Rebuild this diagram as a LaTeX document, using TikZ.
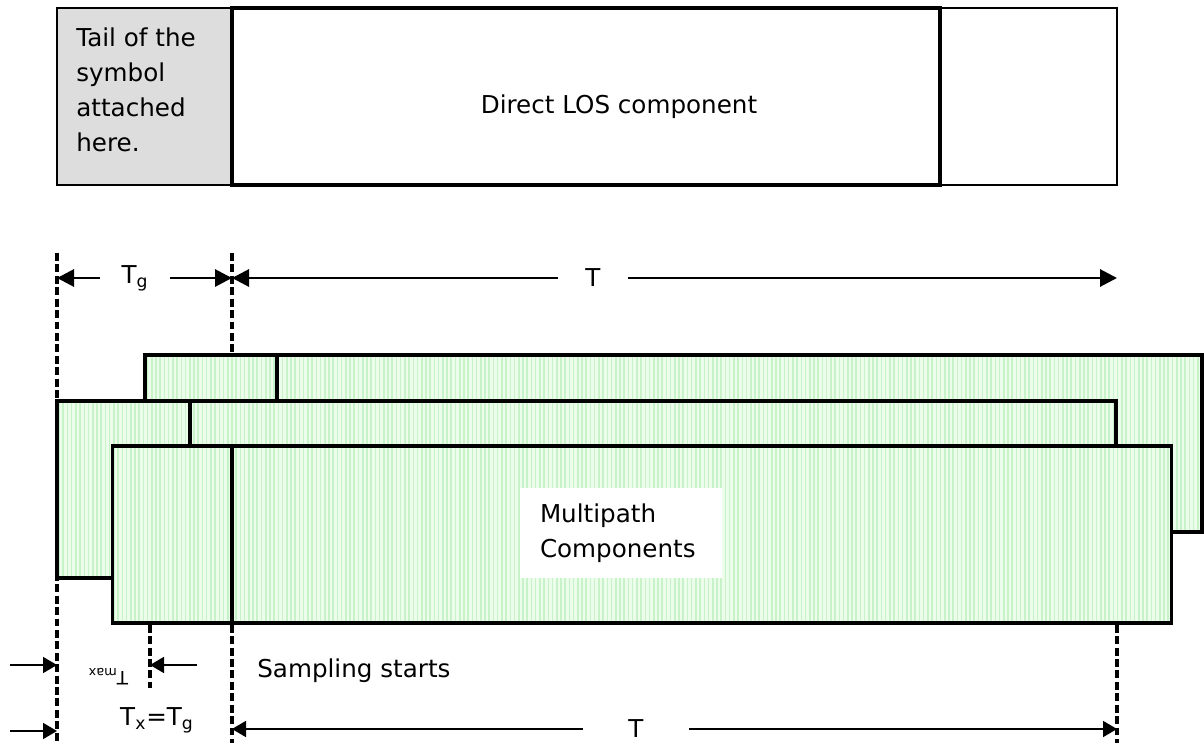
\documentclass[tikz,border=0pt]{standalone}
\usepackage{fontspec}
\setmainfont{DejaVu Sans}
\usepackage{xcolor}
\usepackage{tikz}
\usetikzlibrary{arrows.meta,patterns.meta,positioning}
\definecolor{tailgray}{RGB}{221,221,221}
\definecolor{mpgreen}{RGB}{236,253,236}
\definecolor{mpstripe}{RGB}{200,242,200}
\tikzset{
  labeltext/.style={
    font=\fontsize{14}{20}\selectfont,
    inner sep=0pt
  },
  guide/.style={
    line width=2pt,
    dash pattern=on 4.5pt off 2pt
  }
}

\begin{document}
\begin{tikzpicture}[
  x=0.2mm, y=-0.2mm,
  tailbox/.style={rectangle, draw=black, line width=1.6pt, fill=tailgray, minimum width=3.5cm, minimum height=3.54cm, inner sep=0pt},
  losbox/.style={rectangle, draw=black, line width=2pt, minimum width=14.16cm, minimum height=3.54cm, inner sep=0pt},
  restbox/.style={rectangle, draw=black, line width=1.2pt, minimum width=3.54cm, minimum height=3.54cm, inner sep=0pt},
  pathbox/.style={rectangle, draw=black, line width=2pt, preaction={fill=mpgreen}, minimum width=21.18cm, minimum height=3.54cm, inner sep=0pt,
    pattern={Lines[angle=90, distance=2.4pt, line width=0.9pt]}, pattern color=mpstripe},
  pathline/.style={line width=2pt},
  dimbold/.style={-{Triangle[length=3.4mm, width=3.4mm]}, line width=1.7pt},
  dimthin/.style={-{Triangle[length=2.8mm, width=3.2mm]}, line width=1pt}
]
\useasboundingbox (0,0) rectangle (1204,743);

% Symbol with its tail
\node[tailbox] (tail) at (144.5,96.5) {};
\node[restbox] (rest) at (1028.5,96.5) {};
\node[losbox] (los) at (586,96.5) {};
\node[labeltext, anchor=west, align=left] (tailtext) at (76,90) {Tail of the\\symbol\\attached\\here.};
\node[labeltext] (lostext) at (619,107) {Direct LOS component};

% Guide lines
\coordinate (g0top) at (57,253);
\coordinate (g0bot) at (57,743);
\coordinate (g1top) at (232,253);
\coordinate (g2bot) at (150,688);
\coordinate (g3bot) at (1117,743);
\draw[guide] (g0top) -- (g0bot);

% Multipath components
\node[pathbox, minimum width=21.14cm] (pathA) at (673.5,443.5) {};
\coordinate (sepA) at (277,0);
\draw[pathline] (pathA.north -| sepA) -- (pathA.south -| sepA);

\node[pathbox] (pathB) at (586.5,489.5) {};
\coordinate (sepB) at (190,0);
\draw[pathline] (pathB.north -| sepB) -- (pathB.south -| sepB);

\node[pathbox] (pathC) at (642,534.5) {};
\coordinate (sepC) at (232,0);
\draw[pathline] (pathC.north -| sepC) -- (pathC.south -| sepC);

\node[labeltext, fill=white, inner xsep=0.4cm, text width=3.24cm, minimum height=1.8cm, align=left] (mptext) at (621,533) {Multipath\\Components};

\draw[guide] (g1top) -- (pathA.north -| g1top);
\draw[guide] (pathC.south -| g1top) -- (g1top |- g0bot);
\draw[guide] (pathC.south -| g2bot) -- (g2bot);
\draw[guide] (pathC.south -| g3bot) -- (g3bot);

% Upper dimensions
\node[labeltext, minimum width=1.4cm] (Tg) at (135,278) {T\textsubscript{g}};
\draw[dimbold] (Tg) -- (Tg -| g0top);
\draw[dimbold] (Tg) -- (Tg -| g1top);
\node[labeltext, minimum width=1.4cm] (Ttop) at (593,278) {T};
\draw[dimbold] (Ttop) -- (Ttop -| g1top);
\draw[dimbold] (Ttop) -- (Ttop -| g3bot);

% Lower dimensions
\coordinate (in0) at (10,665);
\coordinate (in2) at (197,665);
\draw[dimthin] (in0) -- (in0 -| g0top);
\draw[dimthin] (in2) -- (in2 -| g2bot);
\node[labeltext, rotate=180, font=\fontsize{10.5}{12}\selectfont] (tmax) at (108,677) {T\textsubscript{max}};
\node[labeltext, anchor=base west] (samp) at (257,677) {Sampling starts};

\coordinate (in1) at (10,731);
\draw[dimthin] (in1) -- (in1 -| g0top);
\node[labeltext] (txtg) at (157,720) {T\textsubscript{x}=T\textsubscript{g}};
\node[labeltext, minimum width=2.1cm] (Tbot) at (636,729) {T};
\draw[dimthin] (Tbot) -- (Tbot -| g1top);
\draw[dimthin] (Tbot) -- (Tbot -| g3bot);

\end{tikzpicture}
\end{document}
